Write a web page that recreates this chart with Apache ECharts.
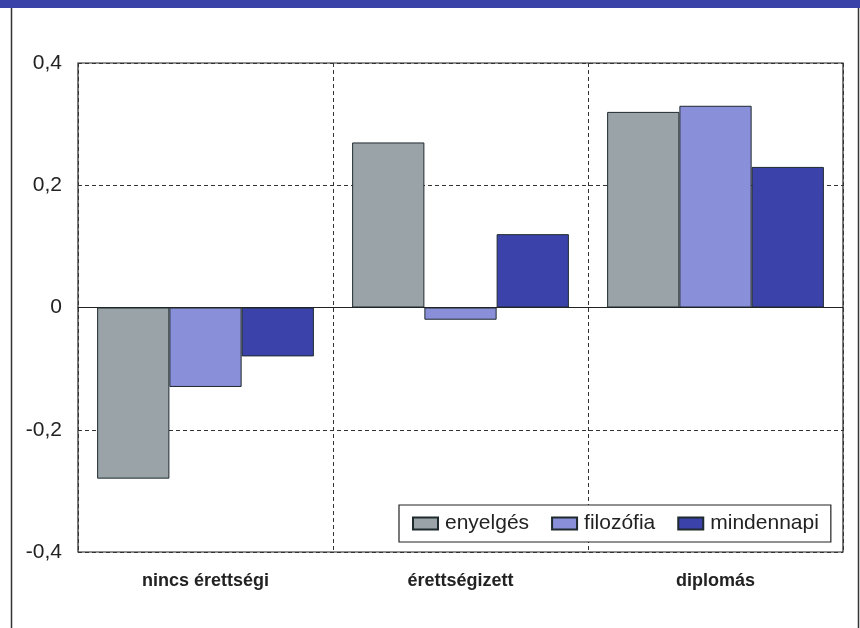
<!DOCTYPE html>
<html>
<head>
<meta charset="utf-8">
<script src="https://cdn.jsdelivr.net/npm/echarts@6/dist/echarts.min.js"></script>
<style>
html,body{margin:0;padding:0;background:#fff;}
#chart{width:860px;height:628px;}
</style>
</head>
<body>
<div id="chart"></div>
<script>
var categories = ['nincs érettségi', 'érettségizett', 'diplomás'];
var seriesNames = ['enyelgés', 'filozófia', 'mindennapi'];
var enyelges = [-0.28, 0.27, 0.32];
var filozofia = [-0.13, -0.02, 0.33];
var mindennapi = [-0.08, 0.12, 0.23];
var yTicks = { min: -0.4, max: 0.4, interval: 0.2 };

var colors = ['#9aa4a8', '#8a8fd9', '#3b42aa'];
var values = [enyelges, filozofia, mindennapi];
var FONT = '"Liberation Sans", Arial, Helvetica, sans-serif';

var chart = echarts.init(document.getElementById('chart'), null, { renderer: 'canvas' });

var series = seriesNames.map(function (name, i) {
  return {
    name: name,
    type: 'bar',
    data: values[i],
    barGap: '0%',
    barCategoryGap: '15%',
    itemStyle: { color: colors[i], borderColor: '#1e2a2e', borderWidth: 1 },
    emphasis: { disabled: true }
  };
});

chart.setOption({
  animation: false,
  backgroundColor: '#ffffff',
  textStyle: { fontFamily: FONT },
  graphic: [
    { type: 'rect', shape: { x: 0, y: 0, width: 860, height: 8 }, style: { fill: '#3a43a8' }, silent: true },
    { type: 'line', shape: { x1: 11.5, y1: 8, x2: 11.5, y2: 628 }, style: { stroke: '#333', lineWidth: 1.5 }, silent: true },
    { type: 'line', shape: { x1: 858.5, y1: 8, x2: 858.5, y2: 628 }, style: { stroke: '#333', lineWidth: 1.5 }, silent: true }
  ],
  grid: {
    left: 78, right: 17, top: 63, bottom: 76,
    show: true, borderColor: '#222', borderWidth: 1.2, backgroundColor: 'transparent'
  },
  legend: {
    data: seriesNames,
    left: 399, top: 505,
    orient: 'horizontal',
    itemWidth: 25, itemHeight: 12, itemGap: 22,
    padding: [8, 12, 8, 13],
    borderColor: '#222', borderWidth: 1.2,
    backgroundColor: '#fff',
    icon: 'rect',
    textStyle: { fontSize: 21, color: '#222', fontFamily: FONT, padding: [0, 0, 0, 2] },
    selectedMode: false
  },
  xAxis: {
    type: 'category',
    data: categories,
    axisLine: { show: true, onZero: true, lineStyle: { color: '#222', width: 1.2 } },
    axisTick: { show: false },
    axisLabel: {
      margin: 20, fontSize: 18, fontWeight: 'bold', color: '#222', fontFamily: FONT,
      interval: 0
    },
    splitLine: { show: true, interval: 0, lineStyle: { color: '#333', type: [4, 3], width: 1 } }
  },
  yAxis: {
    type: 'value',
    min: yTicks.min, max: yTicks.max, interval: yTicks.interval,
    axisLine: { show: false },
    axisTick: { show: false },
    axisLabel: {
      margin: 16, fontSize: 21, color: '#222', fontFamily: FONT,
      formatter: function (v) {
        if (Math.abs(v) < 1e-9) return '0';
        return v.toFixed(1).replace('.', ',');
      }
    },
    splitLine: { show: true, lineStyle: { color: '#333', type: [4, 3], width: 1 } }
  },
  series: series
});
</script>
</body>
</html>
